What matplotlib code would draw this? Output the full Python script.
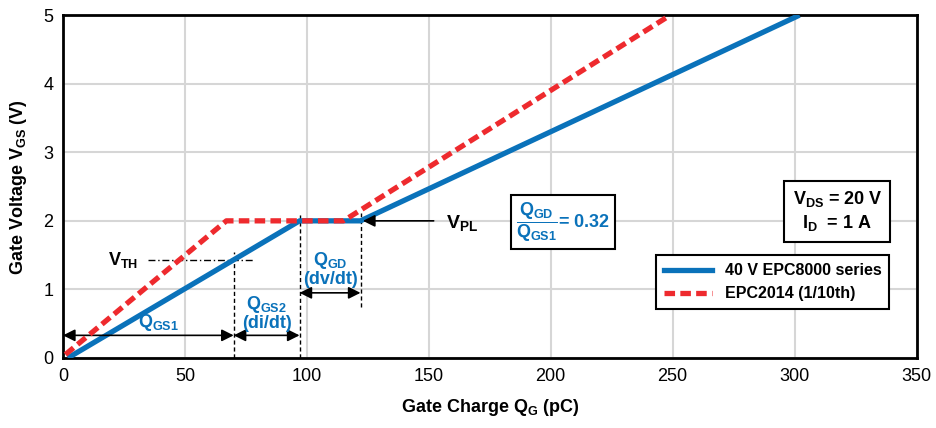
import matplotlib
matplotlib.use("Agg")
import matplotlib.pyplot as plt
from matplotlib.lines import Line2D

plt.rcParams['font.family'] = ['Liberation Sans', 'DejaVu Sans']

# curve data (gate charge pC, gate voltage V)
epc8000_q = [2, 97, 122, 302]
epc8000_v = [0, 2, 2, 5]
epc2014_q = [1, 67, 115, 249]
epc2014_v = [0.05, 2, 2, 5]

x_ticks = [0, 50, 100, 150, 200, 250, 300, 350]
y_ticks = [0, 1, 2, 3, 4, 5]

q_th, v_th = 70, 1.43
q_pl, v_pl = 122, 2
q_gs2_end = 97

blue = '#0a72ba'
red = '#ee2a2e'

fig = plt.figure(figsize=(9.37, 4.28), dpi=100)
ax = fig.add_axes([0.0672, 0.1636, 0.911, 0.801])

ax.plot(epc8000_q, epc8000_v, color=blue, lw=3.8, solid_capstyle='butt', zorder=3)
ax.plot(epc2014_q, epc2014_v, color=red, lw=3.8, ls=(0, (2, 1)), zorder=4)

ax.set_xlim(0, 350)
ax.set_ylim(0, 5)
ax.set_xticks(x_ticks)
ax.set_yticks(y_ticks)
ax.grid(color='#d6d6d6', lw=1.5)
ax.set_axisbelow(True)
for s in ax.spines.values():
    s.set_linewidth(2)
ax.tick_params(length=0, labelsize=13, pad=7)
ax.set_xlabel(r'Gate Charge Q$_\mathregular{G}$ (pC)', fontsize=13, fontweight='bold', labelpad=9)
ax.set_ylabel(r'Gate Voltage V$_\mathregular{GS}$ (V)', fontsize=13, fontweight='bold', labelpad=10)

# V_TH dash-dot marker
ax.plot([35, 78], [v_th, v_th], color='black', lw=1, ls=(0, (5, 2, 1, 2)))
ax.text(31, v_th, r'V$_\mathregular{TH}$', fontsize=13, fontweight='bold', ha='right', va='center')

# vertical dashed guides
ax.plot([q_th, q_th], [0, 1.55], color='black', lw=1, ls=(0, (3, 2)))
ax.plot([q_gs2_end, q_gs2_end], [0, 2.12], color='black', lw=1, ls=(0, (3, 2)))
ax.plot([q_pl, q_pl], [0.75, 2.12], color='black', lw=1, ls=(0, (3, 2)))

arrow = dict(arrowstyle='<|-|>', color='black', lw=1.2, mutation_scale=18, shrinkA=0, shrinkB=0)
ax.annotate('', xy=(0, 0.33), xytext=(q_th, 0.33), arrowprops=arrow)
ax.annotate('', xy=(q_th, 0.33), xytext=(q_gs2_end, 0.33), arrowprops=arrow)
ax.annotate('', xy=(q_gs2_end, 0.95), xytext=(q_pl, 0.95), arrowprops=arrow)
ax.annotate('', xy=(q_pl + 1, v_pl), xytext=(152, v_pl),
            arrowprops=dict(arrowstyle='-|>', color='black', lw=1.2, mutation_scale=18, shrinkA=0, shrinkB=0))
ax.text(157, v_pl - 0.05, r'V$_\mathregular{PL}$', fontsize=14, fontweight='bold', va='center')

ax.text(39, 0.36, r'Q$_\mathregular{GS1}$', color=blue, fontsize=13, fontweight='bold', ha='center', va='bottom')
ax.text(83.5, 0.38, 'Q$_\\mathregular{GS2}$\n(di/dt)', color=blue, fontsize=13, fontweight='bold',
        ha='center', va='bottom', linespacing=1.0)
ax.text(109.5, 1.02, 'Q$_\\mathregular{GD}$\n(dv/dt)', color=blue, fontsize=13, fontweight='bold',
        ha='center', va='bottom', linespacing=1.0)

ax.text(205, 1.98, r'$\mathregular{\dfrac{Q_{GD}}{Q_{GS1}}}$= 0.32', color=blue, fontsize=13, fontweight='bold',
        ha='center', va='center',
        bbox=dict(boxstyle='square,pad=0.3', fc='white', ec='black', lw=1.5))

ax.text(317.5, 2.14, 'V$_\\mathregular{DS}$ = 20 V\nI$_\\mathregular{D}$  = 1 A', fontsize=13, fontweight='bold',
        ha='center', va='center', linespacing=1.3,
        bbox=dict(boxstyle='square,pad=0.45', fc='white', ec='black', lw=1.5))

handles = [Line2D([], [], color=blue, lw=3.8),
           Line2D([], [], color=red, lw=3.8, ls=(0, (2, 1)))]
leg = ax.legend(handles, ['40 V EPC8000 series', 'EPC2014 (1/10th)'], loc='upper right',
                bbox_to_anchor=(0.968, 0.30), fancybox=False, framealpha=1, edgecolor='black',
                prop={'weight': 'bold', 'size': 11.5}, handlelength=3.0, borderpad=0.5, labelspacing=0.5,
                borderaxespad=0)
leg.get_frame().set_linewidth(1.5)

fig.savefig('out.png', dpi=100)
